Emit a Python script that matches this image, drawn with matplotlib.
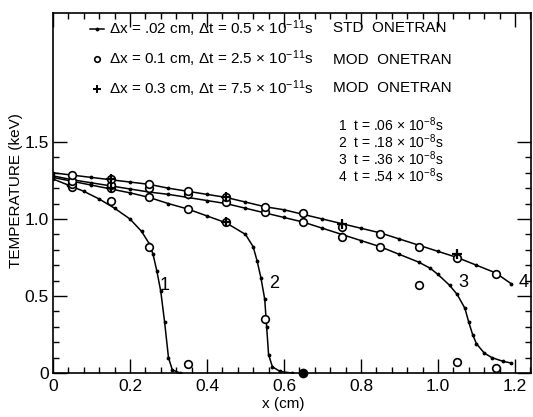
import matplotlib
matplotlib.use('Agg')
import matplotlib.pyplot as plt
from matplotlib.ticker import MultipleLocator, FixedLocator, FixedFormatter
from matplotlib.lines import Line2D

plt.rcParams['font.family'] = ['Liberation Sans', 'DejaVu Sans']
plt.rcParams['mathtext.fontset'] = 'custom'
plt.rcParams['mathtext.rm'] = 'Liberation Sans'
plt.rcParams['mathtext.it'] = 'Liberation Sans:italic'

# ---- STD ONETRAN (dx = .02 cm) curves ----
x_t1 = [0.0, 0.04, 0.08, 0.12, 0.16, 0.20, 0.23, 0.25, 0.26, 0.27, 0.28, 0.29, 0.30, 0.31, 0.33]
T_t1 = [1.26, 1.22, 1.18, 1.13, 1.07, 1.00, 0.92, 0.84, 0.77, 0.66, 0.53, 0.33, 0.10, 0.02, 0.0]

x_t2 = [0.0, 0.05, 0.10, 0.15, 0.20, 0.25, 0.30, 0.35, 0.40, 0.45, 0.50, 0.52, 0.53, 0.54, 0.55, 0.555, 0.56, 0.57, 0.59, 0.62]
T_t2 = [1.27, 1.245, 1.22, 1.195, 1.17, 1.14, 1.10, 1.065, 1.02, 0.975, 0.90, 0.82, 0.73, 0.62, 0.48, 0.30, 0.12, 0.04, 0.01, 0.0]

x_t3 = [0.0, 0.05, 0.10, 0.15, 0.20, 0.25, 0.30, 0.35, 0.40, 0.45, 0.50, 0.55, 0.60, 0.65, 0.70, 0.75, 0.80, 0.85,
        0.90, 0.95, 0.98, 1.00, 1.03, 1.05, 1.07, 1.08, 1.09, 1.10, 1.12, 1.14, 1.17, 1.19]
T_t3 = [1.28, 1.255, 1.235, 1.215, 1.195, 1.175, 1.16, 1.14, 1.12, 1.10, 1.07, 1.04, 1.01, 0.98, 0.94, 0.90, 0.86, 0.82,
        0.77, 0.72, 0.68, 0.64, 0.57, 0.51, 0.42, 0.33, 0.25, 0.19, 0.13, 0.10, 0.075, 0.065]

x_t4 = [0.0, 0.05, 0.10, 0.15, 0.20, 0.25, 0.30, 0.35, 0.40, 0.45, 0.50, 0.55, 0.60, 0.65, 0.70, 0.75, 0.80, 0.85,
        0.90, 0.95, 1.00, 1.05, 1.10, 1.15, 1.19]
T_t4 = [1.30, 1.285, 1.27, 1.255, 1.24, 1.225, 1.20, 1.18, 1.16, 1.14, 1.11, 1.08, 1.06, 1.03, 1.00, 0.97, 0.94, 0.91,
        0.87, 0.83, 0.79, 0.75, 0.70, 0.65, 0.58]

# ---- MOD ONETRAN dx = 0.1 cm (circles) ----
xc1 = [0.05, 0.15, 0.25, 0.35]
Tc1 = [1.21, 1.115, 0.82, 0.06]
xc2 = [0.05, 0.15, 0.25, 0.35, 0.45, 0.55]
Tc2 = [1.23, 1.20, 1.14, 1.065, 0.98, 0.35]
xc3 = [0.05, 0.15, 0.25, 0.35, 0.45, 0.55, 0.65, 0.75, 0.85, 0.95, 1.05, 1.15]
Tc3 = [1.25, 1.22, 1.20, 1.16, 1.11, 1.045, 0.98, 0.885, 0.82, 0.57, 0.07, 0.03]
xc4 = [0.05, 0.15, 0.25, 0.35, 0.45, 0.55, 0.65, 0.75, 0.85, 0.95, 1.05, 1.15]
Tc4 = [1.285, 1.26, 1.23, 1.18, 1.14, 1.08, 1.04, 0.95, 0.90, 0.82, 0.75, 0.64]
x_dot = [0.65]
T_dot = [0.0]

# ---- MOD ONETRAN dx = 0.3 cm (plus) ----
xp4 = [0.15, 0.45, 0.75, 1.05]
Tp4 = [1.26, 1.145, 0.97, 0.77]
xp2 = [0.15, 0.45]
Tp2 = [1.20, 0.98]

legend_labels = [r'$\Delta$x = .02 cm, $\Delta$t = 0.5 × 10$^{-11}$s',
                 r'$\Delta$x = 0.1 cm, $\Delta$t = 2.5 × 10$^{-11}$s',
                 r'$\Delta$x = 0.3 cm, $\Delta$t = 7.5 × 10$^{-11}$s']
code_labels = ['STD  ONETRAN', 'MOD  ONETRAN', 'MOD  ONETRAN']
time_labels = [r'1  t = .06 × 10$^{-8}$s', r'2  t = .18 × 10$^{-8}$s',
               r'3  t = .36 × 10$^{-8}$s', r'4  t = .54 × 10$^{-8}$s']
curve_ids = ['1', '2', '3', '4']
curve_label_x = [0.291, 0.574, 1.067, 1.222]
curve_label_y = [0.57, 0.58, 0.585, 0.585]

xticks = [0, 0.2, 0.4, 0.6, 0.8, 1.0, 1.2]
xticklabels = ['0', '0.2', '0.4', '0.6', '0.8', '1.0', '1.2']
yticks = [0, 0.5, 1.0, 1.5]
yticklabels = ['0', '0.5', '1.0', '1.5']

fig = plt.figure(figsize=(5.33, 4.17), dpi=100)
ax = fig.add_axes([0.0994, 0.1055, 0.9962 - 0.0994, 0.9688 - 0.1055])

lw = 1.1
for xs, ts in [(x_t1, T_t1), (x_t2, T_t2), (x_t3, T_t3), (x_t4, T_t4)]:
    ax.plot(xs, ts, color='k', lw=lw, marker='.', ms=3.5, zorder=2)

circ = dict(ls='none', marker='o', ms=5.5, mfc='white', mec='k', mew=1.2, zorder=3)
for xs, ts in [(xc1, Tc1), (xc2, Tc2), (xc3, Tc3), (xc4, Tc4)]:
    ax.plot(xs, ts, **circ)
ax.plot(x_dot, T_dot, ls='none', marker='o', ms=6, mfc='k', mec='k', zorder=4, clip_on=False)

plus = dict(ls='none', marker='+', ms=7, mec='k', mew=1.6, zorder=4)
for xs, ts in [(xp4, Tp4), (xp2, Tp2)]:
    ax.plot(xs, ts, **plus)

ax.set_xlim(0, 1.2416)
ax.set_ylim(0, 2.3377)

ax.xaxis.set_major_locator(FixedLocator(xticks))
ax.xaxis.set_major_formatter(FixedFormatter(xticklabels))
ax.xaxis.set_minor_locator(MultipleLocator(0.04))
ax.yaxis.set_major_locator(FixedLocator(yticks))
ax.yaxis.set_major_formatter(FixedFormatter(yticklabels))
ax.yaxis.set_minor_locator(FixedLocator([v / 10 for v in range(0, 16)]))

ax.tick_params(which='both', direction='in', top=True, right=True, width=1.0, labelsize=12.5, colors='k')
ax.tick_params(which='major', length=10)
ax.tick_params(which='minor', length=4)
ax.tick_params(axis='x', pad=4)
ax.tick_params(axis='y', pad=3)
for s in ax.spines.values():
    s.set_linewidth(1.2)

ax.set_ylabel('TEMPERATURE (keV)', fontsize=11)
ax.yaxis.set_label_coords(-0.063, 0.508)
ax.set_xlabel('x (cm)', fontsize=11)
ax.xaxis.set_label_coords(0.481, -0.068)

handles = [Line2D([], [], color='k', lw=lw, marker='.', ms=3.5, markevery=[1]),
           Line2D([], [], ls='none', marker='o', ms=4, mfc='white', mec='k', mew=1.2),
           Line2D([], [], ls='none', marker='+', ms=6, mec='k', mew=1.4)]
ax.legend(handles, legend_labels, loc='upper left', bbox_to_anchor=(0.078, 0.985), frameon=False,
          fontsize=11, handlelength=0.9, handletextpad=0.35, labelspacing=0.62, borderpad=0, borderaxespad=0)

for lab, yy in zip(code_labels, [0.958, 0.869, 0.792]):
    ax.text(0.586, yy, lab, transform=ax.transAxes, fontsize=11, va='center', ha='left')
for lab, yy in zip(time_labels, [0.691, 0.6435, 0.596, 0.5485]):
    ax.text(0.596, yy, lab, transform=ax.transAxes, fontsize=10, va='center', ha='left')
for lab, xx, yy in zip(curve_ids, curve_label_x, curve_label_y):
    ax.text(xx, yy, lab, fontsize=13, va='center', ha='center')

fig.savefig('out.png', dpi=100)
